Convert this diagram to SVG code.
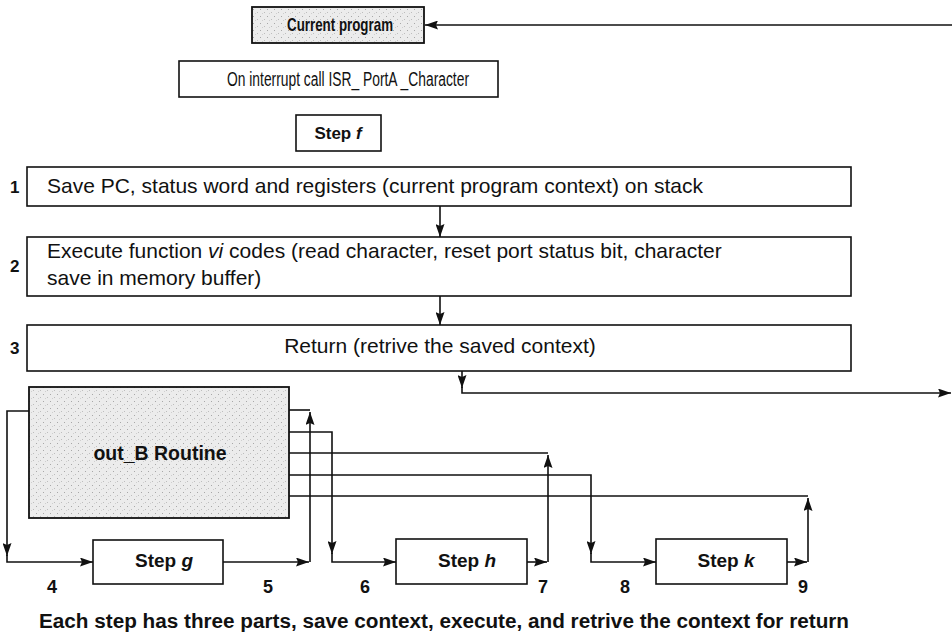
<svg xmlns="http://www.w3.org/2000/svg" width="952" height="637" viewBox="0 0 952 637">
  <defs>
    <marker id="arr" viewBox="0 0 13 9" refX="13" refY="4.5" markerWidth="13" markerHeight="9" markerUnits="userSpaceOnUse" orient="auto">
      <path d="M0,0 L13,4.5 L0,9 L2,4.5 z" fill="#111"/>
    </marker>
    <pattern id="stipple" width="7" height="7" patternUnits="userSpaceOnUse">
      <rect width="7" height="7" fill="#ececec"/>
      <rect x="1" y="2" width="1" height="1" fill="#a8a8a8"/>
      <rect x="5" y="5" width="1" height="1" fill="#bdbdbd"/>
      <rect x="3" y="6" width="1" height="1" fill="#cfcfcf"/>
    </pattern>
    <style>
      .box { fill: #fff; stroke: #111; stroke-width: 1.6; }
      .shaded { fill: url(#stipple); stroke: #111; stroke-width: 1.8; }
      .t { font-family: "Liberation Sans", Arial, sans-serif; fill: #111; }
      .b { font-weight: bold; }
      .wire { fill: none; stroke: #111; stroke-width: 1.6; }
      .arrow { fill: none; stroke: #111; stroke-width: 1.6; marker-end: url(#arr); }
    </style>
  </defs>
  <rect width="952" height="637" fill="#fff"/>

  <!-- top: interrupted program -->
  <g id="current-program">
    <rect class="shaded" x="252" y="7" width="172" height="36"/>
    <text class="t b" x="287" y="31" font-size="18.5" textLength="106" lengthAdjust="spacingAndGlyphs">Current program</text>
  </g>
  <g id="on-interrupt">
    <rect class="box" x="179" y="61" width="319" height="36"/>
    <text class="t" x="227" y="86" font-size="19.5" textLength="242" lengthAdjust="spacingAndGlyphs">On interrupt call ISR_ PortA _Character</text>
  </g>
  <g id="step-f">
    <rect class="box" x="296" y="115" width="85" height="36"/>
    <text class="t b" x="338" y="139" font-size="17" text-anchor="middle">Step <tspan font-style="italic">f</tspan></text>
  </g>

  <!-- ISR stages -->
  <g id="stage-1">
    <rect class="box" x="27" y="167" width="824" height="39"/>
    <text class="t b" x="10" y="193" font-size="17">1</text>
    <text class="t" x="47" y="193" font-size="21">Save PC, status word and registers (current program context) on stack</text>
  </g>
  <g id="stage-2">
    <rect class="box" x="27" y="237" width="824" height="59"/>
    <text class="t b" x="10" y="272" font-size="17">2</text>
    <text class="t" x="47" y="258" font-size="21">Execute function <tspan font-style="italic">vi</tspan> codes (read character, reset port status bit, character</text>
    <text class="t" x="47" y="285" font-size="21">save in memory buffer)</text>
  </g>
  <g id="stage-3">
    <rect class="box" x="27" y="325" width="824" height="46"/>
    <text class="t b" x="10" y="354" font-size="17">3</text>
    <text class="t" x="440" y="353" font-size="21" text-anchor="middle">Return (retrive the saved context)</text>
  </g>

  <!-- output routine and its steps -->
  <g id="out-b-routine">
    <rect class="shaded" x="29" y="387" width="260" height="131"/>
    <text class="t b" x="160" y="460" font-size="19.5" text-anchor="middle">out_B Routine</text>
  </g>
  <g id="step-g">
    <rect class="box" x="93" y="540" width="130" height="44"/>
    <text class="t b" x="164" y="567" font-size="19" text-anchor="middle">Step <tspan font-style="italic">g</tspan></text>
  </g>
  <g id="step-h">
    <rect class="box" x="396" y="539" width="131" height="45"/>
    <text class="t b" x="467" y="567" font-size="19" text-anchor="middle">Step <tspan font-style="italic">h</tspan></text>
  </g>
  <g id="step-k">
    <rect class="box" x="656" y="539" width="131" height="45"/>
    <text class="t b" x="726" y="567" font-size="19" text-anchor="middle">Step <tspan font-style="italic">k</tspan></text>
  </g>

  <!-- step numbers -->
  <g id="step-numbers" class="t b" font-size="18" text-anchor="middle">
    <text x="52" y="593">4</text>
    <text x="268" y="593">5</text>
    <text x="365" y="593">6</text>
    <text x="543" y="593">7</text>
    <text x="625" y="593">8</text>
    <text x="803" y="593">9</text>
  </g>

  <g id="connectors">
    <!-- return to the interrupted program -->
    <line class="arrow" x1="952" y1="25" x2="425" y2="25"/>
    <!-- stage flow -->
    <line class="arrow" x1="440" y1="206" x2="440" y2="237"/>
    <line class="arrow" x1="440" y1="296" x2="440" y2="325"/>
    <line class="arrow" x1="462" y1="371" x2="462" y2="388"/>
    <polyline class="arrow" points="462,387 462,393 951,393"/>

    <!-- step g -->
    <polyline class="arrow" points="29,411 7,411 7,556"/>
    <polyline class="arrow" points="7,555 7,562 93,562"/>
    <line class="arrow" x1="223" y1="562" x2="309" y2="562"/>
    <polyline class="wire" points="289,410 310,410"/>
    <line class="arrow" x1="310" y1="562" x2="310" y2="412"/>

    <!-- step h -->
    <polyline class="arrow" points="289,432 332,432 332,554"/>
    <polyline class="arrow" points="332,553 332,562 396,562"/>
    <line class="arrow" x1="527" y1="562" x2="547" y2="562"/>
    <polyline class="wire" points="289,453 548,453"/>
    <line class="arrow" x1="548" y1="562" x2="548" y2="455"/>

    <!-- step k -->
    <polyline class="arrow" points="289,475 591,475 591,554"/>
    <polyline class="arrow" points="591,553 591,562 656,562"/>
    <line class="arrow" x1="787" y1="562" x2="807" y2="562"/>
    <polyline class="wire" points="289,496 808,496"/>
    <line class="arrow" x1="808" y1="562" x2="808" y2="498"/>
  </g>

  <text id="caption" class="t b" x="39" y="628" font-size="19.5" textLength="810" lengthAdjust="spacingAndGlyphs">Each step has three parts, save context, execute, and retrive the context for return</text>
</svg>
